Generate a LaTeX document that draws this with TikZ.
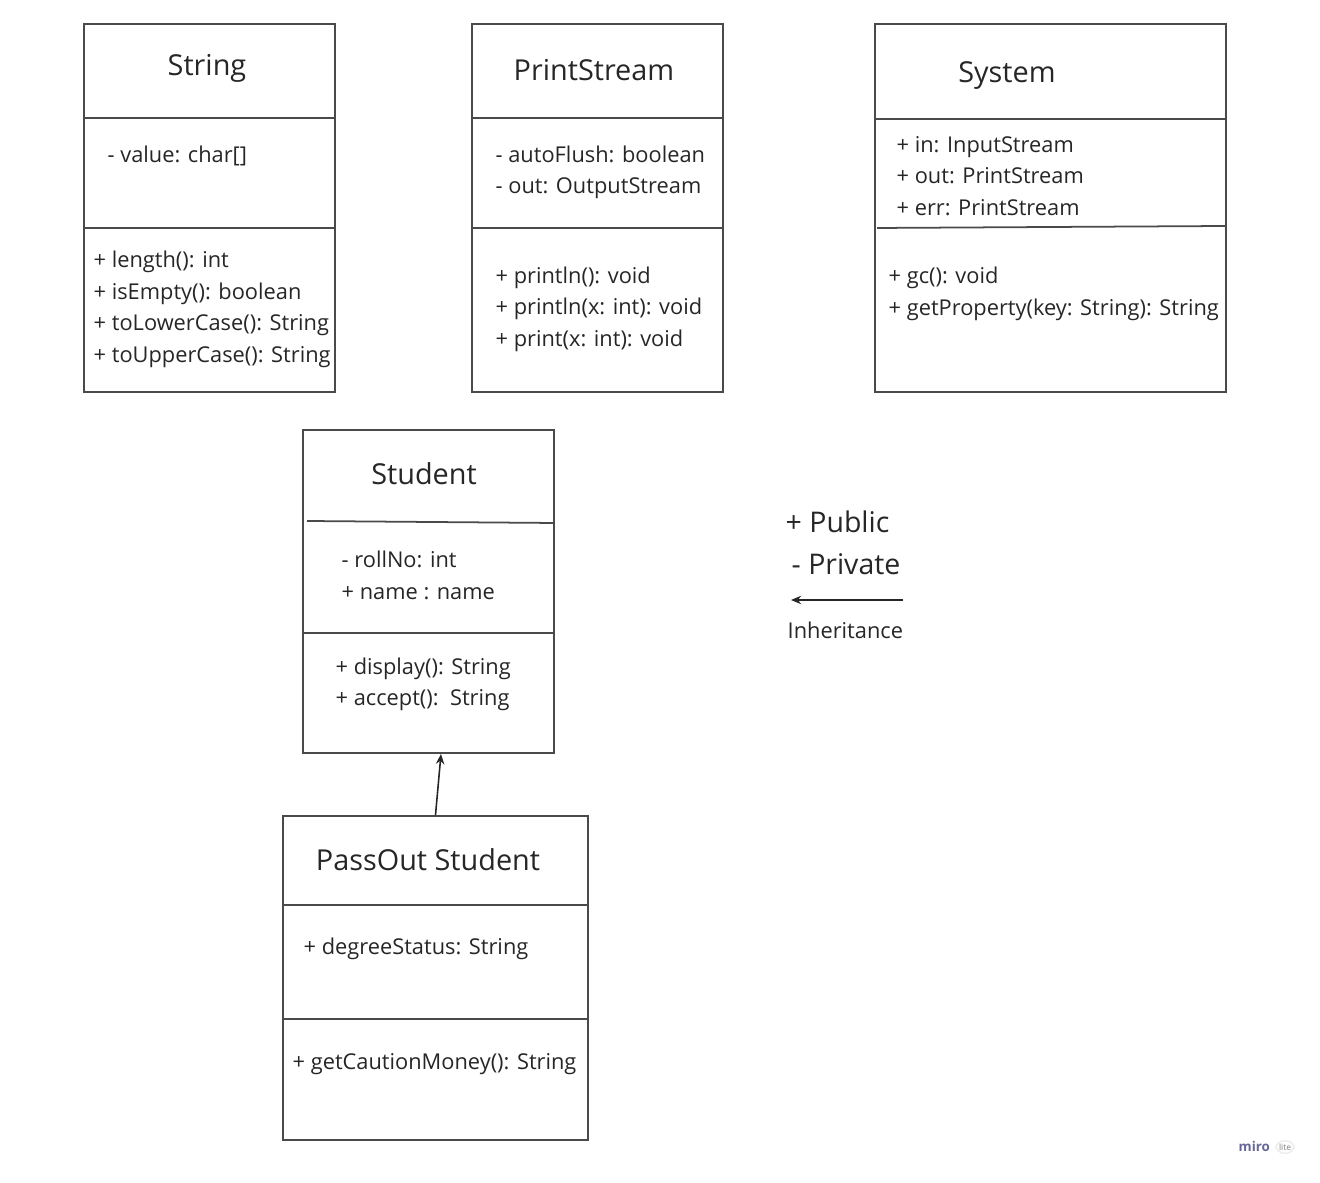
\documentclass[tikz,border=0pt]{standalone}
\usepackage{fontspec}
\setmainfont{Open Sans}
\usetikzlibrary{arrows.meta}
\definecolor{boxline}{HTML}{4A4A4A}
\definecolor{ink}{HTML}{262626}
\tikzset{
  classbox/.style={draw=boxline, line width=0.5pt, inner sep=0pt},
  divider/.style={draw=boxline, line width=0.5pt},
  title/.style={inner sep=0pt, yshift=0.02cm, text=ink, font=\fontsize{8.2}{10}\selectfont, text height=0.72em, text depth=0pt},
  member/.style={anchor=west, inner sep=0pt, yshift=0.04cm, text=ink, font=\fontsize{6.2}{8}\selectfont, text height=0.72em, text depth=0pt},
  legend/.style={anchor=west, inner sep=0pt, yshift=0.01cm, text=ink, font=\fontsize{8.1}{10}\selectfont, text height=0.72em, text depth=0pt},
  inherit/.style={draw=ink, line width=0.45pt, -{Stealth[length=2.9pt,width=2.4pt]}}
}
\begin{document}
\begin{tikzpicture}[x=0.01cm, y=-0.01cm]
  \useasboundingbox (0,0) rectangle (1320,1183);
  % String
  \node[classbox, minimum width=2.51cm, minimum height=3.68cm] (string) at (209.5,208) {};
  \draw[divider] (84,118) -- (335,118);
  \draw[divider] (84,228) -- (335,228);
  \node[title] (stringT) at (207,65) {String};
  \node[member] (stringA1) at (107,154) {- value: char[]};
  \node[member] (stringM1) at (93,259) {+ length(): int};
  \node[member] (stringM2) at (93,291) {+ isEmpty(): boolean};
  \node[member] (stringM3) at (93,322) {+ toLowerCase(): String};
  \node[member] (stringM4) at (93,354) {+ toUpperCase(): String};
  % PrintStream
  \node[classbox, minimum width=2.51cm, minimum height=3.68cm] (prints) at (597.5,208) {};
  \draw[divider] (472,118) -- (723,118);
  \draw[divider] (472,228) -- (723,228);
  \node[title] (printsT) at (594,70) {PrintStream};
  \node[member] (printsA1) at (495,154) {- autoFlush: boolean};
  \node[member] (printsA2) at (495,185) {- out: OutputStream};
  \node[member] (printsM1) at (495,275) {+ println(): void};
  \node[member] (printsM2) at (495,306) {+ println(x: int): void};
  \node[member] (printsM3) at (495,338) {+ print(x: int): void};
  % System
  \node[classbox, minimum width=3.51cm, minimum height=3.68cm] (system) at (1050.5,208) {};
  \draw[divider] (875,119) -- (1226,119);
  \draw[divider] (877,228) -- (1226,226);
  \node[title] (systemT) at (1007,72) {System};
  \node[member] (systemA1) at (896,144) {+ in: InputStream};
  \node[member] (systemA2) at (896,175) {+ out: PrintStream};
  \node[member] (systemA3) at (896,207) {+ err: PrintStream};
  \node[member] (systemM1) at (888,275) {+ gc(): void};
  \node[member] (systemM2) at (888,307) {+ getProperty(key: String): String};
  % Student
  \node[classbox, minimum width=2.51cm, minimum height=3.23cm] (student) at (428.5,591.5) {};
  \draw[divider] (307,521) -- (554,523);
  \draw[divider] (303,633) -- (554,633);
  \node[title] (studentT) at (424,474) {Student};
  \node[member] (studentA1) at (341,559) {- rollNo: int};
  \node[member] (studentA2) at (341,591) {+ name : name};
  \node[member] (studentM1) at (335,666) {+ display(): String};
  \node[member] (studentM2) at (335,697) {+ accept():\ \ String};
  % PassOut Student
  \node[classbox, minimum width=3.05cm, minimum height=3.24cm] (passout) at (435.5,978) {};
  \draw[divider] (283,905) -- (588,905);
  \draw[divider] (283,1019) -- (588,1019);
  \node[title] (passoutT) at (428,860) {PassOut Student};
  \node[member] (passoutA1) at (303,946) {+ degreeStatus: String};
  \node[member] (passoutM1) at (292,1061) {+ getCautionMoney(): String};
  % inheritance
  \draw[inherit] (passout.north) -- ([xshift=0.125cm]student.south);
  % legend
  \node[legend] (pub) at (785,521) {+ Public};
  \node[legend] (priv) at (791,563) {- Private};
  \coordinate (inhR) at (903,600);
  \coordinate (inhL) at (791,600);
  \draw[inherit] (inhR) -- (inhL);
  \node[member] (inhtext) at (787,630) {Inheritance};
  % watermark
  \node[anchor=west, inner sep=0pt, text=gray!80!blue, font=\bfseries\fontsize{3.8}{4}\selectfont] (miro) at (1238,1147) {miro};
  \node[draw=gray!15, rounded corners=0.08cm, fill=white, inner sep=0.03cm, text=gray, font=\fontsize{2.4}{3}\selectfont] (lite) at (1285,1147) {lite};
\end{tikzpicture}
\end{document}
